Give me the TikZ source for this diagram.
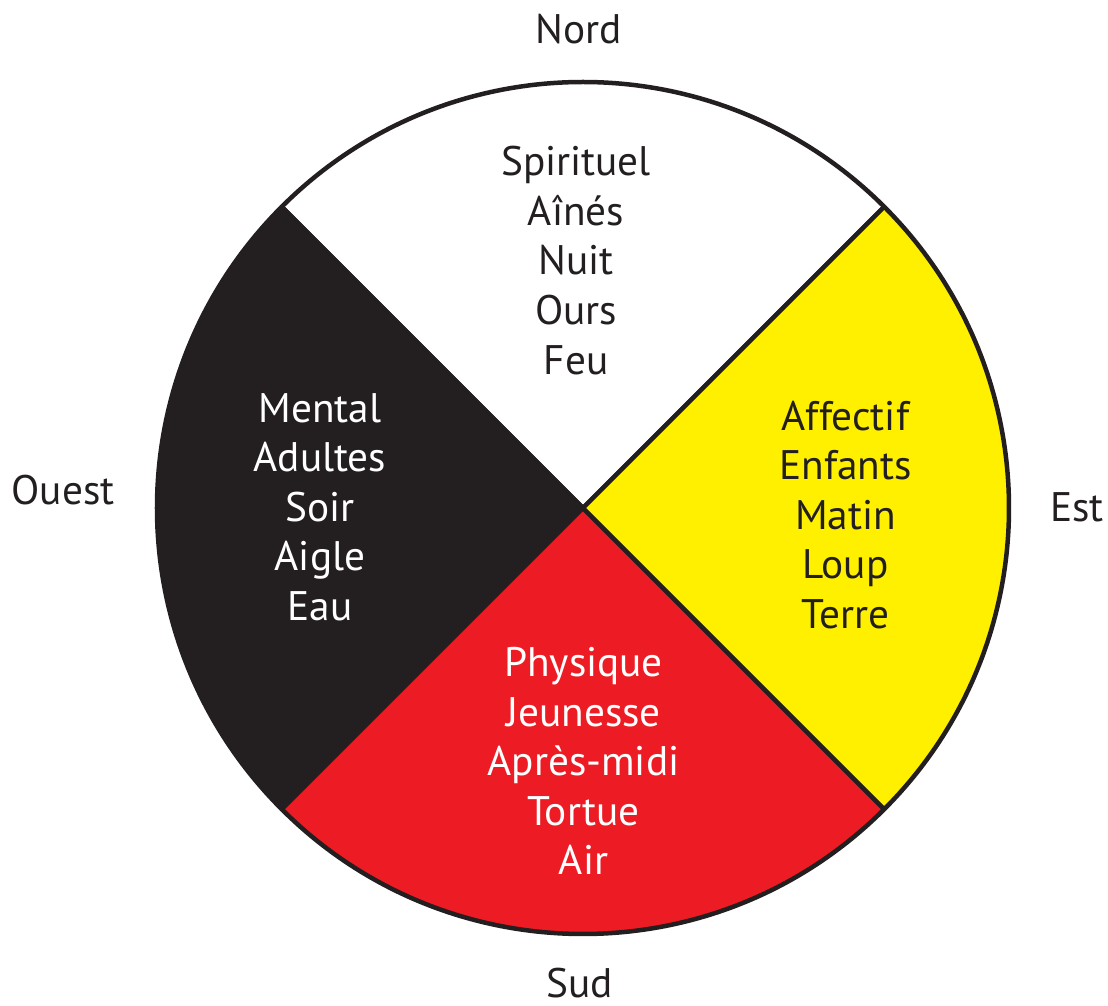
\documentclass[tikz,border=0pt]{standalone}
\usepackage{fontspec}
\setmainfont{PT Sans}
\usepackage{xcolor}
\usepackage{tikz}
\definecolor{wheelblack}{RGB}{35,31,32}
\definecolor{wheelred}{RGB}{237,28,36}
\definecolor{wheelyellow}{RGB}{255,240,0}

\begin{document}
\begin{tikzpicture}
    \tikzstyle{sector} = [draw=wheelblack, line width=0.09cm, line join=round]
    \tikzstyle{direction} = [anchor=base, text=wheelblack, font=\fontsize{23.5}{28.2}\selectfont]
    \tikzstyle{quality} = [align=center, font=\fontsize{23.5}{28.2}\selectfont]
    \useasboundingbox (-11.66,-9.96) rectangle (10.5,10.16);

    % Sectors
    \coordinate (c) at (0,0);
    \draw [sector, fill=white] (c) -- (45:8.52) arc (45:135:8.52) -- cycle;
    \draw [sector, fill=wheelblack] (c) -- (135:8.52) arc (135:225:8.52) -- cycle;
    \draw [sector, fill=wheelred] (c) -- (225:8.52) arc (225:315:8.52) -- cycle;
    \draw [sector, fill=wheelyellow] (c) -- (-45:8.52) arc (-45:45:8.52) -- cycle;

    % Directions
    \node [direction] (nord) at (-0.08,9.28) {Nord};
    \node [direction] (ouest) at (-10.4,0.06) {Ouest};
    \node [direction] (est) at (9.88,-0.28) {Est};
    \node [direction] (sud) at (-0.06,-9.78) {Sud};

    % Qualities
    \node [quality, text=wheelblack] (north) at (-0.14,4.95) {Spirituel\\Aînés\\Nuit\\Ours\\Feu};
    \node [quality, text=white] (west) at (-5.26,0.02) {Mental\\Adultes\\Soir\\Aigle\\Eau};
    \node [quality, text=wheelblack] (east) at (5.25,-0.14) {Affectif\\Enfants\\Matin\\Loup\\Terre};
    \node [quality, text=white] (south) at (0.01,-5.06) {Physique\\Jeunesse\\Après-midi\\Tortue\\Air};
\end{tikzpicture}
\end{document}
